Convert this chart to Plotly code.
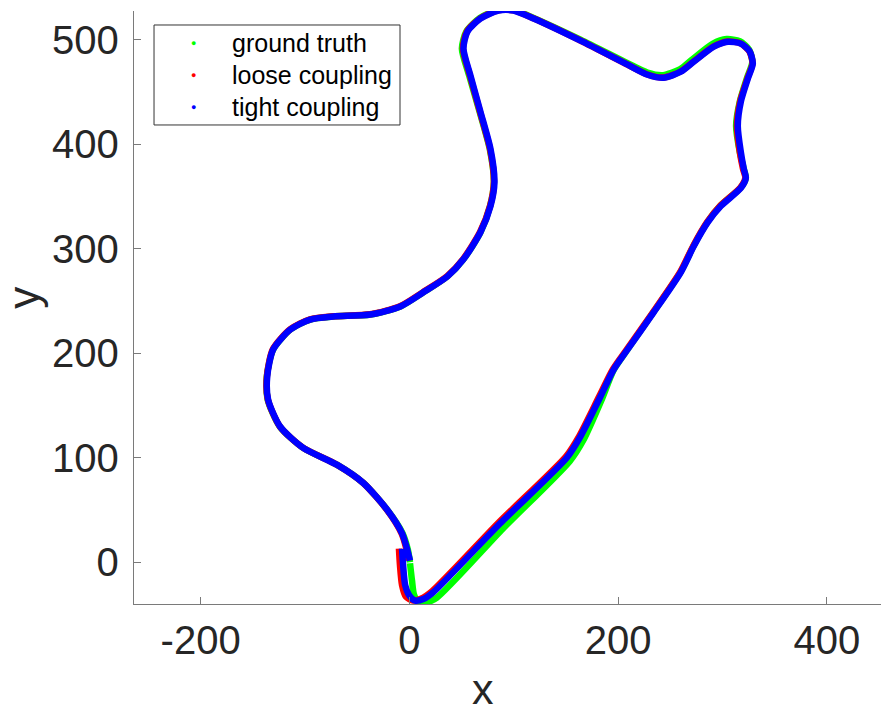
import plotly.graph_objects as go

# ---- data ----
truth_x = [0.6, 2.5, 4.4, 9.2, 16, 26.4, 89.5, 153.5, 166.5, 184.6, 195.7, 209, 234, 260, 272.4, 285.9, 298.3,
           317.5, 322.3, 320.4, 316.5, 313, 316.5, 323.5, 328.5, 325.5, 316.5, 304, 290.5, 271.5, 259,
           243, 228, 209, 164, 119, 99.8, 85.4, 67.5, 54.5, 50.3, 57.3, 67.3, 77, 81, 77.3, 68.1, 51.8,
           36.5, 13.4, -8.6, -37.4, -72.9, -95, -114, -130.5, -136.6, -135.7, -124, -101.7, -69.1, -44.1,
           -21.1, -6.5, -1.5, 0.6]
truth_y = [-1, -17.5, -31, -38.6, -38.6, -33.8, 32.0, 96.5, 116.5, 156.5, 183.9, 203.5, 239.5, 278,
           303, 326, 341.5, 358.5, 367.6, 376.2, 392.5, 417.5, 440.5, 463.5, 478.5, 490.5, 498.5, 500.5,
           496, 481.5, 471.5, 466, 468.5, 477.5, 500, 520.8, 528.5, 528.5, 520.8, 507.7, 491.4, 465.5,
           430.9, 395.4, 363.7, 340.7, 315.7, 289.8, 273.5, 258.2, 244.7, 237, 235.1, 232.2, 222.6, 203.5,
           177.5, 155.5, 129.6, 109.4, 93.1, 75.8, 49.9, 27.5, 12, 0]

loose_x = [-10, -9, -7, -3.3, 3.5, 11, 21.5, 85.8, 150.2, 162.6, 181.8, 195, 208.5, 233.5, 259.5, 271.9,
           285.4, 297.8, 317, 321.8, 319.6, 316.5, 313.8, 316.8, 323.8, 328.7, 325.8, 317.2, 304.8, 291.4,
           272.2, 259.8, 243.4, 228.1, 208.9, 163.8, 118.8, 99.6, 85.2, 67.8, 55.2, 51.3, 58, 67.6, 77.2,
           81, 77.3, 67.7, 51.4, 36.1, 13, -9, -37.6, -73, -95.2, -114.3, -130.8, -136.5, -135.6, -124,
           -102, -69.4, -44.4, -21.5, -7.5, -3, -1]
loose_y = [13, -3, -22, -33, -36.7, -35, -28, 38.2, 101.4, 120.5, 158.5, 184.6, 203.8, 239.3, 277.7, 302.6,
           325.6, 341, 358.3, 367.8, 376.4, 392.7, 417.7, 440.7, 462.8, 477.2, 488.7, 496.4, 498.2, 493.5,
           479.1, 469.5, 463.7, 466.6, 476.2, 499.2, 520.4, 528, 528, 520.4, 507.9, 491.6, 465.7, 431.1,
           395.6, 363.9, 340.9, 315.9, 290, 273.7, 258.4, 244.9, 237.2, 235.3, 232.4, 222.8, 203.7, 177.7,
           155.7, 129.8, 109.6, 93.3, 76, 50.1, 27.5, 13, 1.5]

tight_x = [-7, -6, -4, 0, 5.4, 14, 22.6, 86.8, 151, 163.4, 182.6, 195.7, 209, 234, 260, 272.4, 285.9,
           298.3, 317.5, 322.3, 320.4, 317.5, 314.6, 317.5, 324.2, 329, 326.1, 317.5, 305, 291.6, 272.4,
           260, 243.6, 228.3, 209.1, 164, 119, 99.8, 85.4, 68.1, 55.6, 51.8, 58.5, 68.1, 77.7, 81.5, 77.7,
           68.1, 51.8, 36.5, 13.4, -8.6, -37.4, -72.9, -95, -114, -130.5, -136.2, -135.3, -123.7, -101.7,
           -69.1, -44.1, -21.1, -7, -2.3, 0.6]
tight_y = [13, -3, -22, -32, -36.7, -35, -29, 37, 100.2, 119.4, 157.6, 184.3, 203.5, 239, 277.4, 302.3,
           325.3, 340.7, 358, 367.6, 376.2, 392.5, 417.5, 440.5, 462.6, 477, 488.5, 496.2, 498, 493.3,
           478.9, 469.3, 463.5, 466.4, 476, 499, 520.2, 527.8, 527.8, 520.2, 507.7, 491.4, 465.5, 430.9,
           395.4, 363.7, 340.7, 315.7, 289.8, 273.5, 258.2, 244.7, 237, 235.1, 232.2, 222.6, 203.5, 177.5,
           155.5, 129.6, 109.4, 93.1, 75.8, 49.9, 27.5, 13, 1.5]

series_names = ["ground truth", "loose coupling", "tight coupling"]
series_colors = ["#00ff00", "#ff0000", "#0000ff"]

x_ticks = [-200, 0, 200, 400]
x_tick_text = ["-200", "0", "200", "400"]
y_ticks = [0, 100, 200, 300, 400, 500]
y_tick_text = ["0", "100", "200", "300", "400", "500"]

FONT = "Liberation Sans, Arial, Helvetica, sans-serif"
TXT = "#262626"
AX = "#7a7a7a"

fig = go.Figure()
for xs, ys, name, col in zip([truth_x, loose_x, tight_x], [truth_y, loose_y, tight_y],
                             series_names, series_colors):
    fig.add_trace(go.Scatter(x=xs, y=ys, mode="lines", name=name, showlegend=False,
                             line=dict(color=col, width=6.5, shape="spline", smoothing=0.7)))

# legend drawn as box + dot + label (MATLAB style)
leg_x0, leg_x1, leg_y0, leg_y1 = 0.0268, 0.3561, 0.8078, 0.9764
row_y = [0.946, 0.892, 0.838]
shapes = [dict(type="rect", xref="paper", yref="paper", x0=leg_x0, x1=leg_x1, y0=leg_y0, y1=leg_y1,
               line=dict(color="#333333", width=1), fillcolor="white", layer="above")]
annotations = []
for name, col, ry in zip(series_names, series_colors, row_y):
    annotations.append(dict(text="●", xref="paper", yref="paper", x=0.079, y=ry, showarrow=False,
                            xanchor="center", yanchor="middle", font=dict(size=9, color=col)))
    annotations.append(dict(text=name, xref="paper", yref="paper", x=0.1285, y=ry, showarrow=False,
                            xanchor="left", yanchor="middle", font=dict(size=25, color="black")))
annotations += [
    dict(text="x", xref="paper", yref="paper", x=0.467, y=-0.1872, showarrow=False,
         xanchor="center", yanchor="bottom", font=dict(size=43, color=TXT)),
    dict(text="y", xref="paper", yref="paper", x=-0.149, y=0.516, showarrow=False,
         xanchor="center", yanchor="middle", textangle=-90, font=dict(size=44, color=TXT)),
]

fig.update_layout(
    width=882, height=717,
    margin=dict(l=134, r=1, t=11, b=113),
    paper_bgcolor="white", plot_bgcolor="white",
    font=dict(family=FONT, color=TXT),
    showlegend=False,
    xaxis=dict(range=[-263.8, 451.8], tickvals=x_ticks, ticktext=x_tick_text, ticks="inside",
               ticklen=7, tickcolor=AX, showline=True, linecolor=AX, linewidth=1.3, showgrid=False,
               zeroline=False, tickfont=dict(size=40, color=TXT), mirror=False,
               ticklabelstandoff=1, automargin=False),
    yaxis=dict(range=[-40.0, 527.4], tickvals=y_ticks, ticktext=y_tick_text, ticks="inside",
               ticklen=7, tickcolor=AX, showline=True, linecolor=AX, linewidth=1.3, showgrid=False,
               zeroline=False, tickfont=dict(size=40, color=TXT), mirror=False,
               ticklabelstandoff=6, automargin=False),
    shapes=shapes,
    annotations=annotations,
)

fig.write_html("out.html", config={"displayModeBar": False},
               post_script="document.body.style.margin='0px';")
